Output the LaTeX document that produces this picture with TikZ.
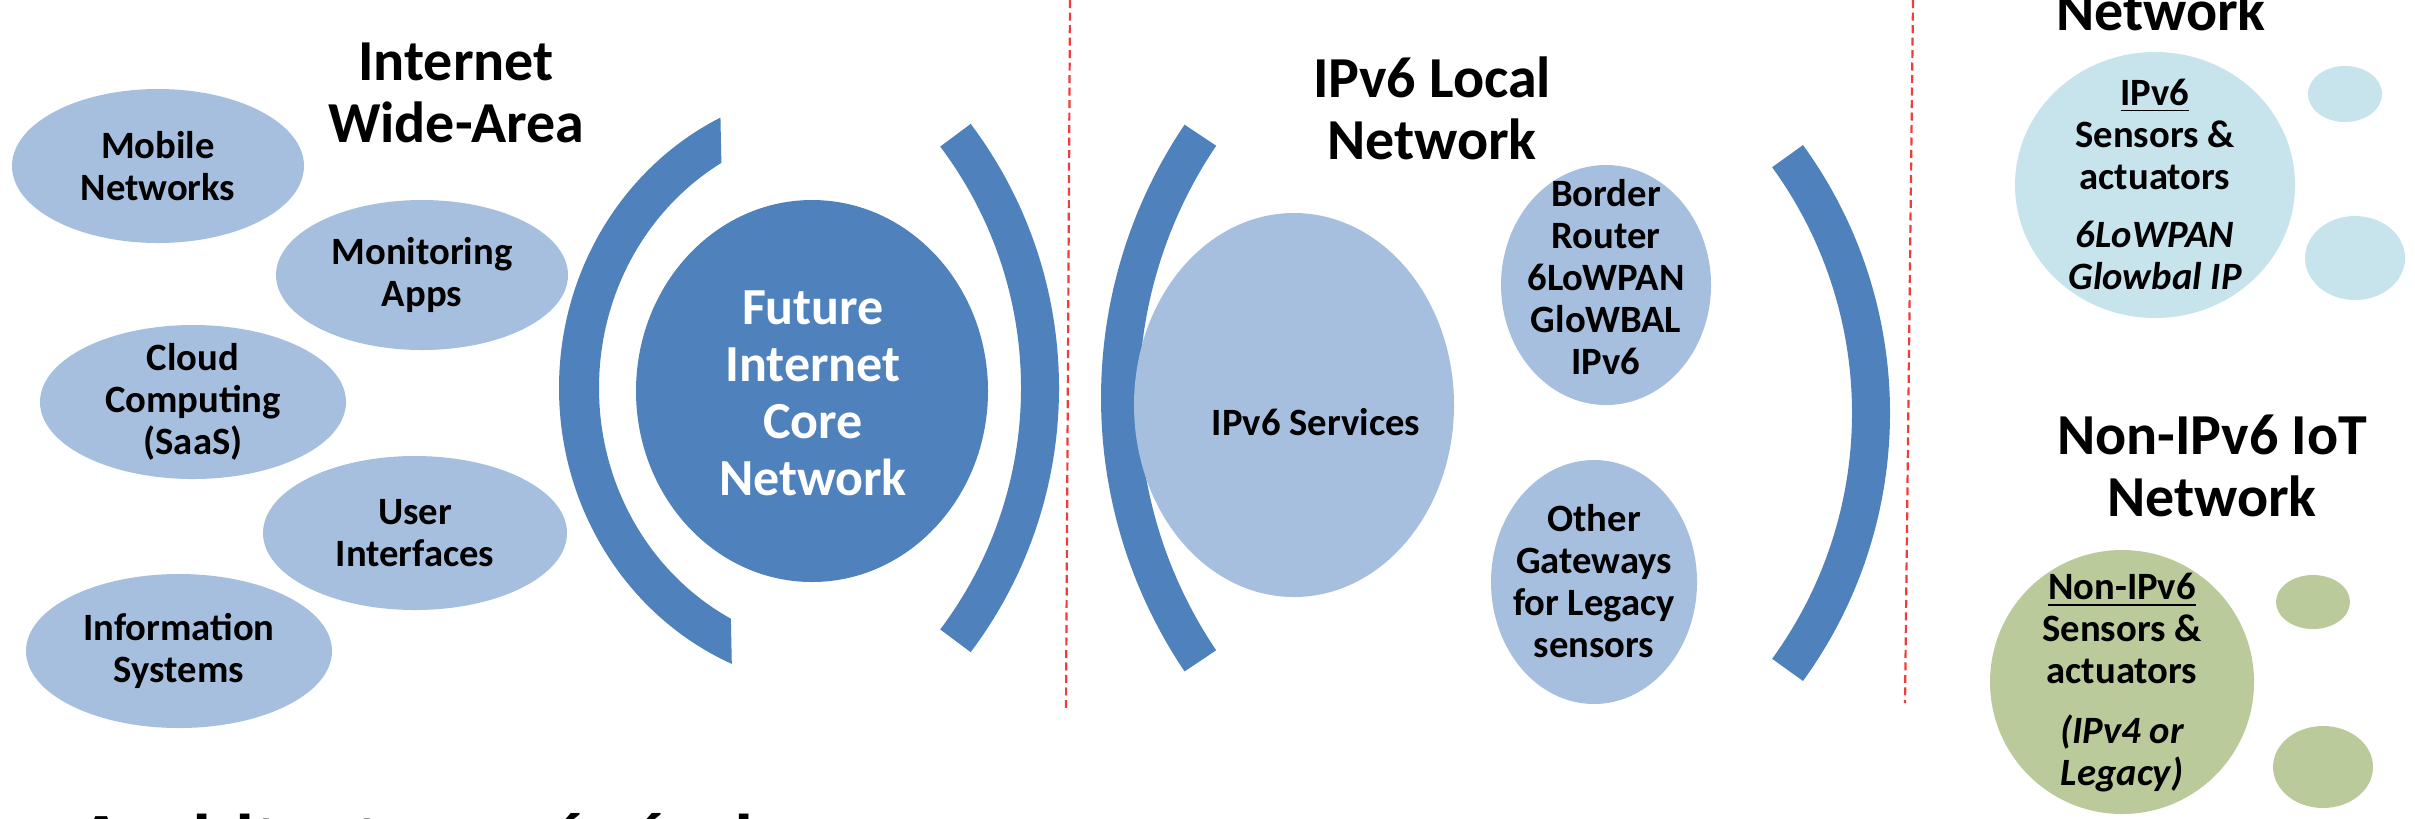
\documentclass[tikz,border=0pt]{standalone}
\usepackage{fontspec}
\setmainfont{Carlito}
\newfontfamily\arialfont{Liberation Sans}
\usetikzlibrary{shapes.geometric}
\definecolor{ellblue}{HTML}{A7BFDE}
\definecolor{coreblue}{HTML}{4F81BD}
\definecolor{lightcyan}{HTML}{C7E3EC}
\definecolor{olivegreen}{HTML}{BBCA9B}
\definecolor{dashred}{HTML}{F03C3C}
\begin{document}
\begin{tikzpicture}[x=0.1mm,y=-0.1mm,
  blob/.style={ellipse, draw=none, fill=ellblue, inner sep=0pt},
  cyanblob/.style={blob, fill=lightcyan},
  greenblob/.style={blob, fill=olivegreen},
  txt/.style={align=center, inner sep=0pt, font=\fontsize{11pt}{11.95pt}\selectfont\bfseries},
  title/.style={align=center, inner sep=0pt, font=\fontsize{16.5pt}{17.6pt}\selectfont\bfseries},
  coretxt/.style={align=center, inner sep=0pt, text=white, font=\fontsize{14.8pt}{16.2pt}\selectfont\bfseries},
  band/.style={draw=coreblue, line width=3.8mm},
  divider/.style={draw=dashred, line width=0.22mm, dash pattern=on 0.8mm off 0.45mm}
]
\useasboundingbox (0,0) rectangle (2415,818);
\fill[white] (0,0) rectangle (2415,818);

% dividers
\draw[divider] (1070,0) -- (1066,708);
\draw[divider] (1913,0) -- (1905,703);

% Internet wide-area
\node[title] (twide) at (456,93) {Internet\\Wide-Area};
\node[blob, minimum width=29.2mm, minimum height=15.4mm] (mob) at (158,166) {};
\node[txt] (mobt) at (mob) {Mobile\\Networks};
\node[blob, minimum width=29.2mm, minimum height=15mm] (mon) at (422,275) {};
\node[txt] (mont) at (mon) {Monitoring\\Apps};
\node[blob, minimum width=30.6mm, minimum height=15.4mm] (cld) at (193,402) {};
\node[txt] (cldt) at (cld) {Cloud\\Computing\\(SaaS)};
\node[blob, minimum width=30.4mm, minimum height=15.4mm] (usr) at (415,533) {};
\node[txt] (usrt) at (usr) {User\\Interfaces};
\node[blob, minimum width=30.6mm, minimum height=15.4mm] (inf) at (179,651) {};
\node[txt] (inft) at (inf) {Information\\Systems};

% core network
\begin{scope}
  \clip (0,0) -- (718,0) -- (735,818) -- (0,818) -- cycle;
  \draw[coreblue, line width=4mm] (844,388) ellipse [x radius=265, y radius=280];
\end{scope}
\node[ellipse, fill=coreblue, inner sep=0pt, minimum width=35.2mm, minimum height=38.2mm] (core) at (812,391) {};
\node[coretxt] (coret) at (813,393) {Future\\Internet\\Core\\Network};
\draw[band] ([shift={(-37:420)}]620,388) arc[start angle=-37, end angle=37, radius=420];

% IPv6 local network
\draw[band] ([shift={(146:470)}]1590,398) arc[start angle=146, end angle=214, radius=470];
\draw[band] ([shift={(-36:437)}]1434,413) arc[start angle=-36, end angle=36, radius=437];
\node[title] (tlocal) at (1432,108) {IPv6 Local\\Network};
\node[blob, minimum width=32mm, minimum height=38.4mm] (svc) at (1294,405) {};
\node[txt] (svct) at (1316,422) {IPv6 Services};
\node[blob, minimum width=21mm, minimum height=24mm] (br) at (1606,285) {};
\node[txt] (brt) at (1606,277) {Border\\Router\\6LoWPAN\\GloWBAL\\IPv6};
\node[blob, minimum width=20.6mm, minimum height=24.4mm] (gw) at (1594,582) {};
\node[txt] (gwt) at (1594,581) {Other\\Gateways\\for Legacy\\sensors};

% IPv6 IoT network
\node[title, anchor=base] (tnet) at (2161,30) {Network};
\node[cyanblob, minimum width=28mm, minimum height=26.6mm] (v6) at (2155,185) {};
\node[txt] (v6t) at (2155,184) {\underline{IPv6}\\Sensors \&\\actuators\\[1.6mm]\itshape 6LoWPAN\\\itshape Glowbal IP};
\node[cyanblob, minimum width=7.4mm, minimum height=5.6mm] (v6a) at (2345,94) {};
\node[cyanblob, minimum width=10mm, minimum height=8.4mm] (v6b) at (2355,258) {};

% Non-IPv6 IoT network
\node[title] (tnon) at (2212,466) {Non-IPv6 IoT\\Network};
\node[greenblob, minimum width=26.4mm, minimum height=26.4mm] (nv6) at (2122,682) {};
\node[txt] (nv6t) at (2122,683) {\underline{Non-IPv6}\\Sensors \&\\actuators\\[1.8mm]\itshape (IPv4 or\\\itshape Legacy)};
\node[greenblob, minimum width=7.4mm, minimum height=5.4mm] (nv6a) at (2313,602) {};
\node[greenblob, minimum width=10mm, minimum height=8.2mm] (nv6b) at (2323,767) {};

% caption cut by the lower edge
\node[anchor=base west, inner sep=0pt, font=\arialfont\bfseries\fontsize{19.8pt}{22pt}\selectfont] (cap) at (76,864) {Architecture générale};
\end{tikzpicture}
\end{document}
